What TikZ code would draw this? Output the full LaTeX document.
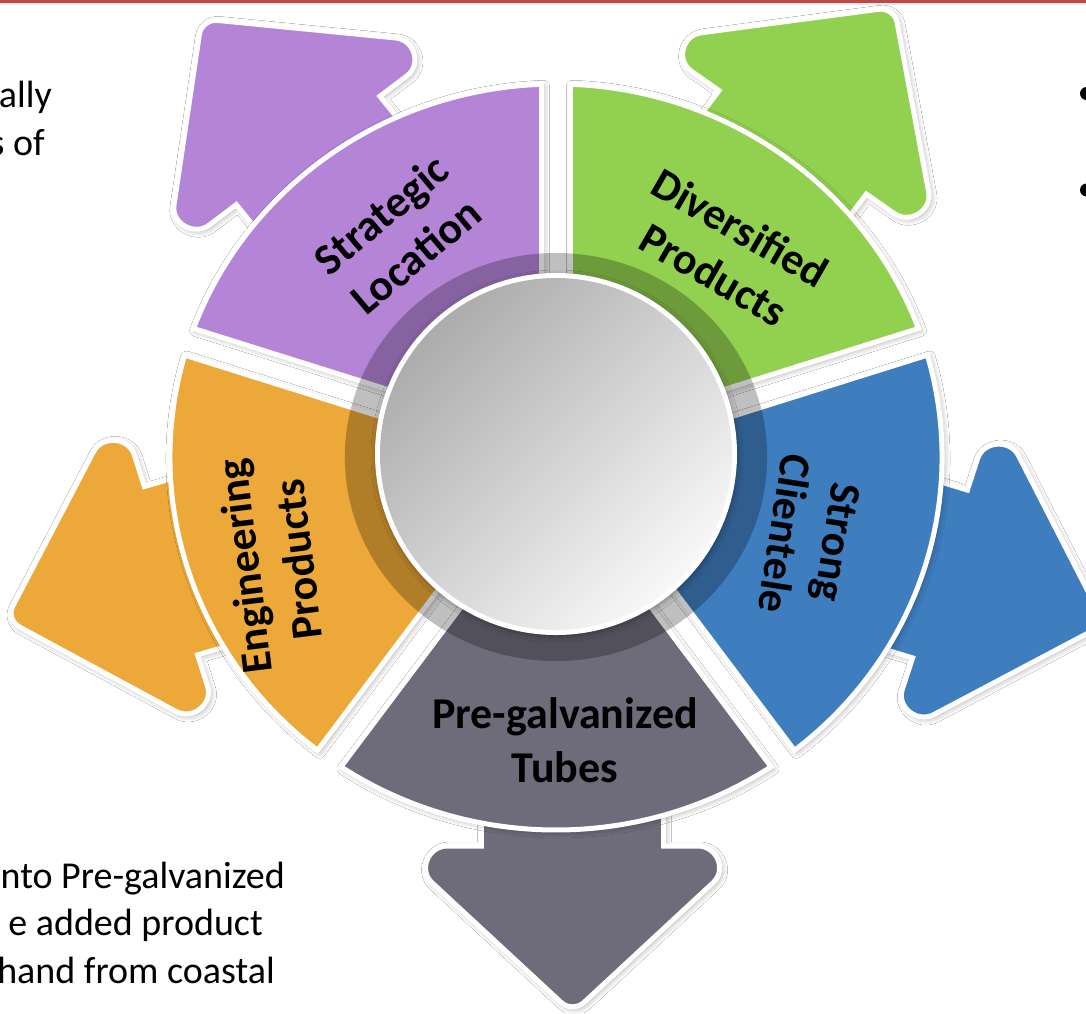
\documentclass[tikz,border=0pt]{standalone}
\usepackage{fontspec}
\setmainfont{Carlito}
\usetikzlibrary{shadows.blur}
\definecolor{cPurple}{RGB}{180,132,215}
\definecolor{cGreen}{RGB}{146,208,80}
\definecolor{cBlue}{RGB}{62,125,190}
\definecolor{cOrange}{RGB}{236,168,56}
\definecolor{cGray}{RGB}{110,107,122}
\definecolor{cRed}{RGB}{190,72,70}
\definecolor{cLine}{RGB}{226,234,244}
\definecolor{cShadeA}{RGB}{172,172,172}
\definecolor{cShadeB}{RGB}{248,248,248}
\tikzset{
  piece/.style={fill=#1, draw=white, line width=5pt,
    blur shadow={shadow xshift=2pt, shadow yshift=-2pt, shadow blur radius=6pt, shadow opacity=35}},
  lbl/.style={font=\fontsize{44}{54}\selectfont\bfseries, align=center, text=black, inner sep=0pt},
  bgtext/.style={font=\fontsize{38}{47.5}\selectfont, anchor=base east, text=black, inner sep=0pt}
}
% arrow: angle, colour, lateral offset
\newcommand\mkarrow[3]{%
  \begin{scope}[rotate=#1, yshift=#3]
    \path[piece=#2] (190,-88) -- (389,-88) -- (389,-121)
      .. controls (389,-139.55) and (412.86,-149.18) .. (425.7,-135.8)
      -- (545.2,-11.25) .. controls (551.29,-4.9) and (551.29,4.9) .. (545.2,11.25)
      -- (425.7,135.8) .. controls (412.86,149.18) and (389,139.55) .. (389,121)
      -- (389,88) -- (190,88) -- cycle;
  \end{scope}}
% sector: start angle, colour
\newcommand\mksector[2]{%
  \path[piece=#2] ({#1+4.72}:170) -- ({#1+2.15}:373)
    arc[start angle={#1+2.15}, end angle={#1+72-2.15}, radius=373]
    -- ({#1+72-4.72}:170)
    arc[start angle={#1+72-4.72}, end angle={#1+4.72}, radius=170] -- cycle;}
\begin{document}
\begin{tikzpicture}[x=1pt,y=1pt]
\useasboundingbox (0,0) rectangle (1086,-1013);
\clip (0,0) rectangle (1086,-1013);
\fill[white] (0,0) rectangle (1086,-1013);
% slide remnants
\fill[cRed] (0,0) rectangle (1086,-2.5);
\fill[cLine] (0,-2.5) rectangle (1086,-5);
\node[bgtext] (t1) at (52,-107) {ally};
\node[bgtext] (t2) at (45,-155) {s of};
\node[bgtext] (t3) at (285,-888) {nto Pre-galvanized};
\node[bgtext] (t4) at (263,-935) {e added product};
\node[bgtext] (t5) at (275,-983) {hand from coastal};
\fill[black] (1086.5,-93.5) circle (6.5);
\fill[black] (1086.5,-190) circle (6.5);
% main graphic
\begin{scope}[shift={(556,-457)}, xscale=1.035]
  \mkarrow{54}{cGreen}{0pt}
  \mkarrow{128}{cPurple}{0pt}
  \mkarrow{197}{cOrange}{0pt}
  \mkarrow{-17.5}{cBlue}{0pt}
  \mkarrow{-90}{cGray}{16pt}
  \mksector{18}{cGreen}
  \mksector{90}{cPurple}
  \mksector{162}{cOrange}
  \mksector{234}{cGray}
  \mksector{306}{cBlue}
  \fill[black, opacity=0.25] (0,0) circle (204);
\end{scope}
\fill[white, blur shadow={shadow xshift=1pt, shadow yshift=-2pt, shadow blur radius=5pt, shadow opacity=30}] (556,-454) circle (181);
\shade[top color=cShadeA, bottom color=cShadeB, shading angle=45] (556,-454) circle (176);
% labels
\node[lbl, rotate=40] (strat) at (398,-235) {Strategic\\Location};
\node[lbl, rotate=-30] (div) at (727,-251) {Diversified\\Products};
\node[lbl, rotate=-99] (strong) at (811,-538) {Strong\\Clientele};
\node[lbl, rotate=97] (eng) at (271,-563) {Engineering\\Products};
\node[lbl] (pre) at (565,-740) {Pre-galvanized\\Tubes};
\end{tikzpicture}
\end{document}
